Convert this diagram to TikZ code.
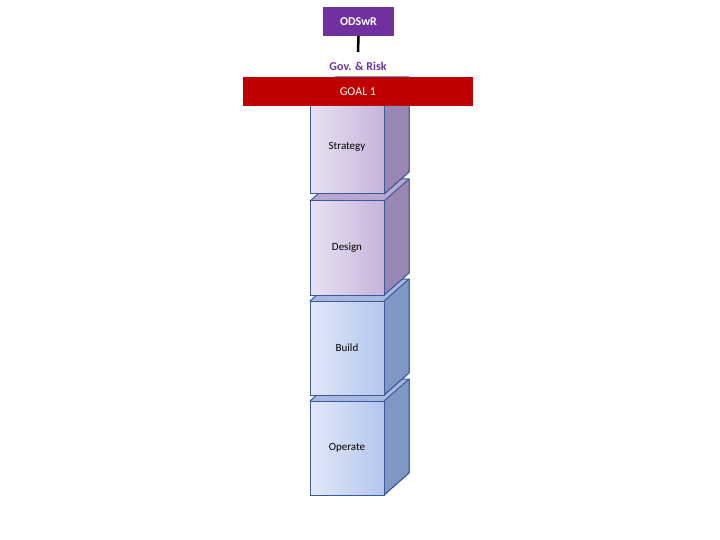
\documentclass[tikz,border=0pt]{standalone}
\usepackage{fontspec}
\setmainfont{Carlito}
\begin{document}
\begin{tikzpicture}[x=1pt,y=-1pt,
  lbl/.style={font=\fontsize{11}{13}\selectfont}]
\useasboundingbox (0,0) rectangle (720,540);
\definecolor{odpurple}{HTML}{7030A0}
\definecolor{goalred}{HTML}{C00000}
\definecolor{edgeblue}{HTML}{3A5A9A}
\definecolor{blight}{HTML}{E2E8F8}
\definecolor{bdark}{HTML}{B4C6EE}
\definecolor{bside}{HTML}{8096C4}
\definecolor{btop}{HTML}{A8B8E0}
\definecolor{plight}{HTML}{E8E2F0}
\definecolor{pdark}{HTML}{C6B4DC}
\definecolor{pside}{HTML}{9A86B2}
\definecolor{ptop}{HTML}{B8A8D0}
\newcommand{\cube}[7]{% y1 y2 light dark side top text
  \fill[#6,draw=edgeblue,line width=1pt,line join=round] (310,#1) -- (335,#1-22) -- (409,#1-22) -- (409,#2-22) -- (384,#2) -- cycle;
  \fill[#5,draw=edgeblue,line width=1pt,line join=round] (384,#1) -- (409,#1-22) -- (409,#2-22) -- (384,#2) -- cycle;
  \shade[left color=#3, right color=#4] (310,#1) rectangle (384,#2);
  \draw[edgeblue,line width=1pt] (310,#1) rectangle (384,#2);
  \node[lbl] (#7) at (347,{(#1+#2)/2}) {#7};}
\cube{401}{495}{blight}{bdark}{bside}{btop}{Operate}
\cube{301}{395}{blight}{bdark}{bside}{btop}{Build}
\cube{201}{295}{plight}{pdark}{pside}{ptop}{Design}
\cube{99}{194}{plight}{pdark}{pside}{ptop}{Strategy}
\node[fill=goalred,text=white,minimum width=230pt,minimum height=29pt,inner sep=0pt,font=\fontsize{12}{14}\selectfont] (goal) at (358,91.5) {GOAL 1};
\node[fill=odpurple,text=white,minimum width=71pt,minimum height=29pt,inner sep=0pt,font=\bfseries\fontsize{12}{14}\selectfont] (od) at (358.5,21.5) {ODSwR};
\node[text=odpurple,font=\bfseries\fontsize{12}{14}\selectfont,inner sep=1pt] (gov) at (358,66) {Gov. \& Risk};
\draw[line width=2.5pt] (od.south) -- (358,52);
\end{tikzpicture}
\end{document}
